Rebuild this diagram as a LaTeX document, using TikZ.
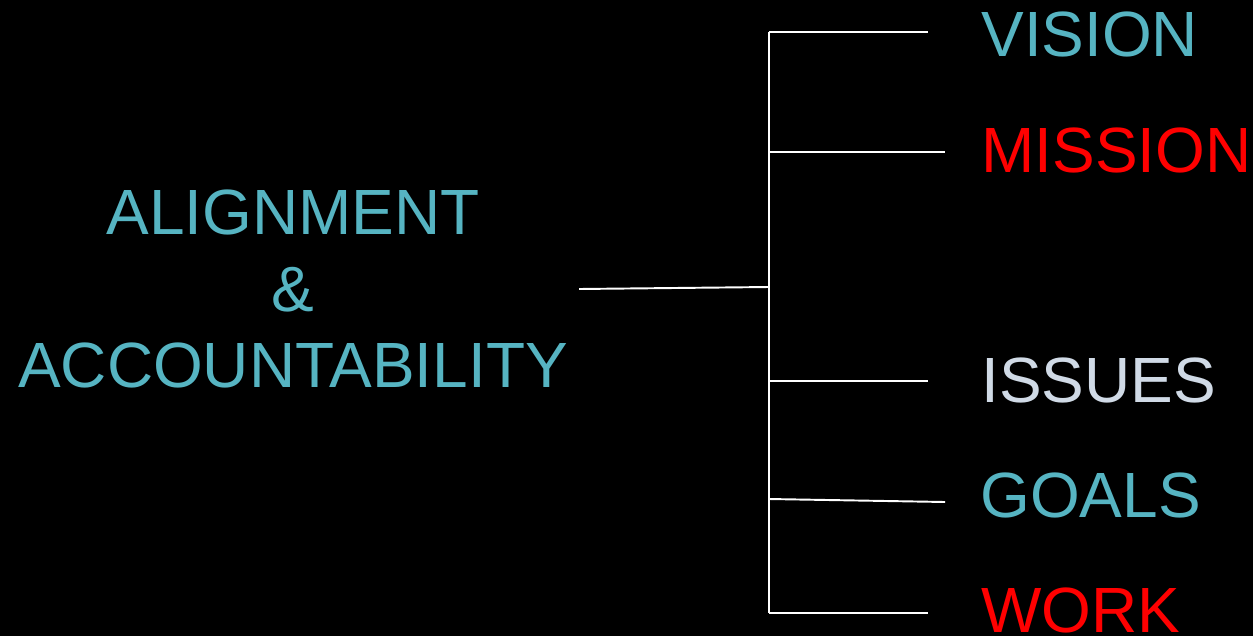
\documentclass[tikz,border=0pt]{standalone}
\usepackage{xcolor}
\usepackage{fontspec}
\setmainfont{Liberation Sans}
\usepackage{tikz}
\usetikzlibrary{positioning}
\definecolor{sarcelle}{RGB}{86,180,194}
\definecolor{rouge}{RGB}{255,0,0}
\definecolor{grisclair}{RGB}{208,218,230}
\tikzset{
	trait/.style={draw=white, line width=1.1pt}, % traits de l'arbre
	mot/.style={inner sep=0pt, anchor=base west, font=\fontsize{36.4}{43.5}\selectfont}, % étiquettes de droite
	titre/.style={align=center, inner ysep=0pt, inner xsep=0.22cm, text=sarcelle, font=\fontsize{36.4}{43.5}\selectfont}, % bloc de gauche
}

\begin{document}
\begin{tikzpicture}[x=0.02cm, y=-0.02cm]
	% Fond
	\fill[black] (0,0) rectangle (1253,636);
	\useasboundingbox (0,0) rectangle (1253,636);

	% Bloc de gauche
	\node[titre] (aa) at (293,289) {ALIGNMENT\\\&\\ACCOUNTABILITY};

	% Étiquettes
	\node[mot, text=sarcelle] (vision) at (981,56) {VISION};
	\node[mot, text=rouge] (mission) at (981,172) {MISSION};
	\node[mot, text=grisclair] (issues) at (981,402) {ISSUES};
	\node[mot, text=sarcelle] (goals) at (980,517) {GOALS};
	\node[mot, text=rouge] (work) at (981,632) {WORK};

	% Points de l'arbre
	\coordinate (hub) at (769,287);
	\coordinate (haut) at (769,32);
	\coordinate (bas) at (769,613);
	\coordinate (fv) at (928,32);   % vers VISION
	\coordinate (fm) at (945,152);  % vers MISSION
	\coordinate (fi) at (928,381);  % vers ISSUES
	\coordinate (dg) at (769,499);
	\coordinate (fg) at (945,502);  % vers GOALS
	\coordinate (fw) at (928,613);  % vers WORK

	% Traits
	\draw[trait] (aa.east) -- (hub);
	\draw[trait] (haut) -- (bas);
	\draw[trait] (haut) -- (fv);
	\draw[trait] (haut |- fm) -- (fm);
	\draw[trait] (haut |- fi) -- (fi);
	\draw[trait] (dg) -- (fg);
	\draw[trait] (bas) -- (fw);
\end{tikzpicture}
\end{document}
